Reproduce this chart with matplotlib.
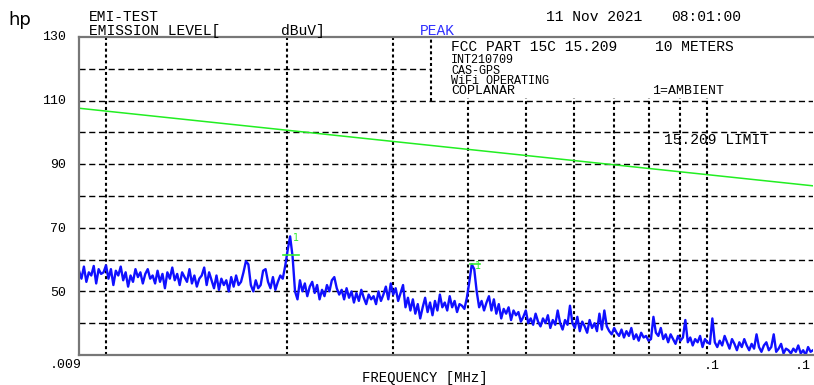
import numpy as np
import matplotlib
matplotlib.use("Agg")
import matplotlib.pyplot as plt

plt.rcParams['lines.scale_dashes'] = False

W, H = 814, 385

# --- sweep data: 300 points, log spaced from 9 kHz to 150 kHz ---
f_start, f_stop = 0.009, 0.15
level_dbuv = [
    56.5, 54, 57.8, 53, 56, 55, 58, 52.5, 57, 55.5,
    56, 58.2, 54, 57, 52, 56.5, 55, 57.8, 53.5, 56,
    51.5, 55, 53, 57, 54.5, 56, 52.5, 55.5, 57, 54,
    55, 52.5, 56.5, 53, 55.5, 51, 56, 54, 57.5, 53.5,
    55.5, 52, 56, 54.5, 53, 57, 52.5, 55, 51.5, 54,
    55, 57.5, 52, 56, 53.5, 51, 55, 50.5, 54, 52,
    53.5, 50, 54.5, 51.5, 55, 52, 53, 56, 59.5, 58.5,
    52, 50, 53.5, 51, 52, 56.5, 57, 53, 51, 54.5,
    50.5, 53, 55, 54, 58, 63, 67.3, 61, 50, 47.5,
    53.5, 50, 52.5, 48.5, 51.5, 53, 49.5, 52, 47.5, 50.5,
    48.5, 52, 50, 53.5, 54.5, 51, 49, 50.5, 47.5, 51,
    48, 50, 46.5, 49.5, 47, 50.5, 48, 46, 49, 47.5,
    48.5, 46, 50, 47, 49, 51.5, 47.5, 52.5, 49, 51,
    47, 49.5, 52, 45, 48, 44, 47.5, 43, 46, 41.5,
    45, 48, 43.5, 46.5, 42.5, 47, 44, 49, 45, 46.5,
    44, 48.5, 45, 47, 43.5, 46, 45.5, 44.5, 48, 53,
    58.5, 57, 50, 45, 47, 44, 46.5, 48.5, 44, 47.5,
    43, 46, 41.5, 44.5, 43, 45, 41, 44, 42.5, 43.5,
    40.5, 42, 44, 40, 41.5, 39.5, 43, 40.5, 39, 41.5,
    40, 42.5, 38.5, 41, 39.5, 44, 40, 38, 41, 39.5,
    45.5, 40, 38.5, 42, 37.5, 40.5, 39, 37, 41, 38.5,
    40, 37.5, 43, 38, 44, 39, 37.5, 36.5, 38.5, 37,
    36, 38, 35.5, 37.5, 36, 38.5, 35, 36.5, 34.5, 37,
    35.5, 36, 34.5, 35, 42, 37, 36, 38.5, 35, 36.5,
    34, 36.5, 35, 33.5, 36, 34.5, 35.5, 41, 34, 35.5,
    33, 35, 34, 36, 32.5, 35, 34, 33.5, 41.5, 34,
    32.5, 34.5, 33, 36, 34, 32, 35, 33.5, 31.5, 34,
    32.5, 35, 33, 31.5, 33.5, 32, 36.5, 32.5, 31, 33,
    34, 31.5, 32.5, 36.5, 31, 32, 33.5, 30.5, 32, 31.5,
    30.5, 32, 31, 33, 30.5, 31.5, 30, 32.5, 31, 31.5,
]
freq_mhz = np.geomspace(f_start, f_stop, len(level_dbuv))

# FCC 15.209 limit at 10 m (straight in log-f)
limit_freq = [0.009, 0.15]
limit_db = [107.6, 83.2]

# grid
y_grid = [40, 50, 60, 70, 80, 90, 100, 110, 120]
y_labels = [130, 110, 90, 70, 50]
x_grid_full = [0.01, 0.02, 0.03]
x_grid_low = [0.04, 0.05, 0.06, 0.07, 0.08, 0.09, 0.1]
box_left = 0.0347

# marker peaks
marker_freq = [0.02005, 0.0402]
marker_db = [67.3, 58.5]

mono = "Liberation Mono"

fig = plt.figure(figsize=(W / 100, H / 100), dpi=100)
fig.patch.set_facecolor("white")
ax = fig.add_axes([79 / W, 1 - 355 / H, (813 - 79) / W, (355 - 37) / H])
ax.set_xscale("log")
ax.set_xlim(f_start, f_stop)
ax.set_ylim(30, 130)
ax.set_xticks([])
ax.set_yticks([])
ax.minorticks_off()
for s in ["left", "top", "bottom"]:
    ax.spines[s].set_color("#777777")
    ax.spines[s].set_linewidth(1.6)
ax.spines["right"].set_visible(False)

hdash = dict(color="black", lw=1.0, ls=(0, (4.4, 2.6)))
vdash = dict(color="black", lw=1.5, ls=(0, (2.2, 2.0)))
for yv in y_grid:
    if yv == 120:
        ax.plot([f_start, box_left], [yv, yv], **hdash)
    else:
        ax.axhline(yv, **hdash)
for xv in x_grid_full:
    ax.plot([xv, xv], [30, 130], **vdash)
for xv in x_grid_low:
    ax.plot([xv, xv], [30, 110.8], **vdash)
ax.plot([box_left, box_left], [110, 130], **vdash)

ax.plot(limit_freq, limit_db, color="#22ee22", lw=1.1)
ax.plot(freq_mhz, level_dbuv, color="#1010ff", lw=1.7)

# peak markers
for mf, md in zip(marker_freq, marker_db):
    ax.text(mf * 1.02, md - 0.5, "1", color="#33ee33", fontsize=7,
            family="DejaVu Sans", va="center", ha="left")
ax.plot([0.0197, 0.0209], [61.5, 61.5], color="#33ee33", lw=1.2)
ax.plot([0.0403, 0.0418], [58.6, 58.6], color="#33ee33", lw=1.2)


def ftext(x, y, s, **kw):
    kw.setdefault("family", mono)
    kw.setdefault("fontsize", 10.5)
    kw.setdefault("va", "center")
    fig.text(x / W, 1 - y / H, s, **kw)


ftext(8, 20, "hp", family="DejaVu Sans", fontsize=13)
ftext(89, 17, "EMI-TEST")
ftext(89, 31, "EMISSION LEVEL[")
ftext(281, 31, "dBuV]")
ftext(420, 31, "PEAK", color="#3030ff")
ftext(546, 17, "11 Nov 2021")
ftext(671, 17, "08:01:00")

# header box
ftext(451, 47, "FCC PART 15C 15.209")
ftext(655, 47, "10 METERS")
ftext(451, 60, "INT210709", fontsize=8.5)
ftext(451, 70.5, "CAS-GPS", fontsize=8.5)
ftext(451, 81, "WiFi OPERATING", fontsize=8.5)
ftext(451, 91.5, "COPLANAR", fontsize=9.5)
ftext(652, 91.5, "1=AMBIENT", fontsize=9.5)
ftext(664, 140, "15.209 LIMIT")

for i, lab in enumerate(y_labels):
    ftext(66, 37 + i * 64, str(lab), ha="right", fontsize=9.5)

ftext(66, 365, ".009", ha="center", fontsize=9.5)
ftext(712, 366, ".1", ha="center", fontsize=9.5)
ftext(803, 366, ".1", ha="center", fontsize=9.5)
ftext(362, 378, "FREQUENCY [MHz]", fontsize=10)

fig.savefig("out.png", dpi=100)
